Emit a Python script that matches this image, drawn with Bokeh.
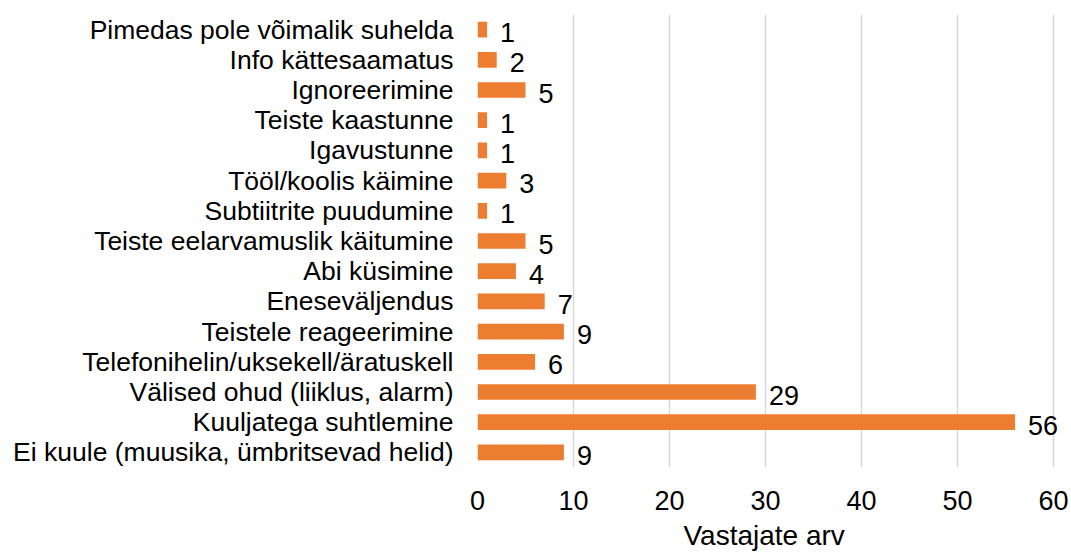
from bokeh.plotting import figure
from bokeh.models import ColumnDataSource, LabelSet, FactorRange, Range1d, FixedTicker, Title
from bokeh.core.properties import value
from bokeh.embed import file_html
from bokeh.resources import INLINE

categories = [
    "Pimedas pole võimalik suhelda",
    "Info kättesaamatus",
    "Ignoreerimine",
    "Teiste kaastunne",
    "Igavustunne",
    "Tööl/koolis käimine",
    "Subtiitrite puudumine",
    "Teiste eelarvamuslik käitumine",
    "Abi küsimine",
    "Eneseväljendus",
    "Teistele reageerimine",
    "Telefonihelin/uksekell/äratuskell",
    "Välised ohud (liiklus, alarm)",
    "Kuuljatega suhtlemine",
    "Ei kuule (muusika, ümbritsevad helid)",
]
counts = [1, 2, 5, 1, 1, 3, 1, 5, 4, 7, 9, 6, 29, 56, 9]
x_ticks = [0, 10, 20, 30, 40, 50, 60]
x_title = "Vastajate arv"

FONT = "Liberation Sans"
BAR = "#ED7D31"

# Bokeh puts the first factor at the bottom
factors = list(reversed(categories))
src = ColumnDataSource(dict(cat=categories, val=counts, lab=[str(v) for v in counts]))

# x range a bit wider than 60 so the value label of the longest bar is not clipped
p = figure(
    width=1071, height=556,
    y_range=FactorRange(factors=factors, range_padding=0),
    x_range=Range1d(0, 61.67),
    output_backend="svg", toolbar_location=None,
    min_border_left=477, min_border_right=2, min_border_top=14, min_border_bottom=89,
)
p.outline_line_color = None
p.background_fill_color = "white"
p.border_fill_color = "white"

p.hbar(y="cat", right="val", left=0, height=0.52, source=src,
       fill_color=BAR, line_color=None)

labels = LabelSet(x="val", y="cat", text="lab", source=src, x_offset=13, y_offset=-3,
                  text_baseline="middle", text_align="left",
                  text_font=value(FONT), text_font_size=value("27px"), text_color="black")
p.add_layout(labels)

# axes
p.xaxis.ticker = FixedTicker(ticks=x_ticks)
p.xaxis.axis_line_color = None
p.xaxis.major_tick_line_color = None
p.xaxis.minor_tick_line_color = None
p.xaxis.major_tick_in = 0
p.xaxis.major_tick_out = 0
p.xaxis.major_label_standoff = 23
p.xaxis.major_label_text_font = FONT
p.xaxis.major_label_text_font_size = "27px"
p.xaxis.major_label_text_color = "black"

p.yaxis.axis_line_color = None
p.yaxis.major_tick_line_color = None
p.yaxis.minor_tick_line_color = None
p.yaxis.major_tick_in = 0
p.yaxis.major_tick_out = 0
p.yaxis.major_label_standoff = 24
p.yaxis.major_label_text_font = FONT
p.yaxis.major_label_text_font_size = "26.5px"
p.yaxis.major_label_text_color = "black"

p.xgrid.ticker = FixedTicker(ticks=x_ticks)
p.xgrid.grid_line_color = "#d9d9d9"
p.xgrid.grid_line_width = 1.5
p.ygrid.grid_line_color = None

# axis title, centred under the 0..60 span
ttl = Title(text=x_title, align="left", offset=206, standoff=11,
            text_font=FONT, text_font_size="28px", text_font_style="normal",
            text_color="black")
p.add_layout(ttl, "below")

open("out.html", "w").write(file_html(p, INLINE))
